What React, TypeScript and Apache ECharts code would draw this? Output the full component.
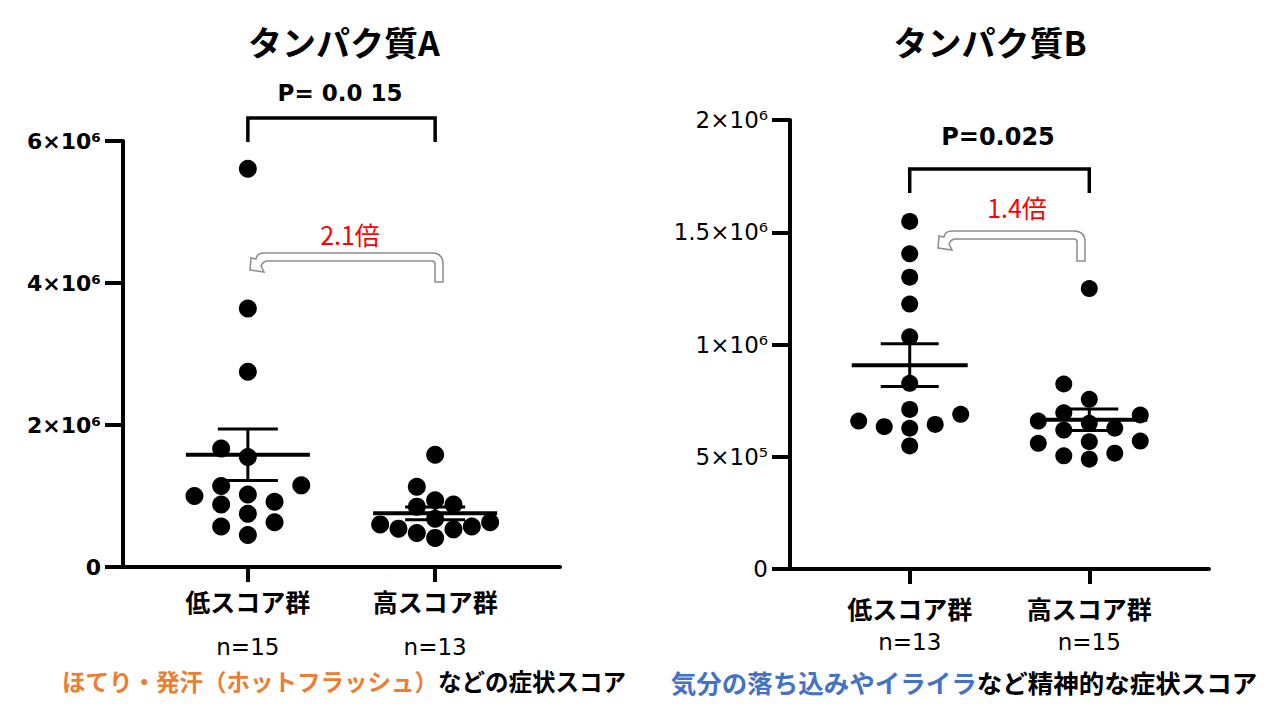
import React, { useEffect, useRef } from 'react';
import * as echarts from 'echarts';

// ---- data ----
const categories = ['低スコア群', '高スコア群'];

// タンパク質A (hot flush score groups)
const proteinALow = [5.61e6, 3.64e6, 2.75e6, 1.67e6, 1.55e6, 1.15e6, 1.14e6, 1.02e6, 1.0e6, 0.92e6, 0.88e6, 0.75e6, 0.63e6, 0.57e6, 0.45e6];
const proteinAHigh = [1.58e6, 1.13e6, 0.94e6, 0.88e6, 0.85e6, 0.68e6, 0.63e6, 0.6e6, 0.57e6, 0.54e6, 0.53e6, 0.48e6, 0.41e6];

// タンパク質B (mental symptom score groups)
const proteinBLow = [1.548e6, 1.404e6, 1.3e6, 1.18e6, 1.034e6, 0.827e6, 0.711e6, 0.689e6, 0.659e6, 0.644e6, 0.634e6, 0.627e6, 0.548e6];
const proteinBHigh = [1.249e6, 0.824e6, 0.756e6, 0.696e6, 0.686e6, 0.659e6, 0.649e6, 0.627e6, 0.619e6, 0.57e6, 0.567e6, 0.56e6, 0.516e6, 0.504e6, 0.489e6];

const yTicksA = [0, 2e6, 4e6, 6e6];
const yTickLabelsA = ['0', '2×10⁶', '4×10⁶', '6×10⁶'];
const yTicksB = [0, 5e5, 1e6, 1.5e6, 2e6];
const yTickLabelsB = ['0', '5×10⁵', '1×10⁶', '1.5×10⁶', '2×10⁶'];

const titleA = 'タンパク質A';
const titleB = 'タンパク質B';
const pValueA = 'P= 0.0 15';
const pValueB = 'P=0.025';
const foldA = '2.1倍';
const foldB = '1.4倍';
const captionA = ['ほてり・発汗（ホットフラッシュ）', 'などの症状スコア'];
const captionB = ['気分の落ち込みやイライラ', 'など精神的な症状スコア'];

const JP = '"Noto Sans CJK JP", sans-serif';
const NUM = '"DejaVu Sans", Verdana, sans-serif';

// greedy beeswarm: ascending values, try centre then alternate sides
function swarmColumns(values: number[], thresh: number): number[] {
  const order = values.map((_, i) => i).sort((a, b) => values[a] - values[b]);
  const placed: { v: number; c: number }[] = [];
  const cols = new Array(values.length).fill(0);
  for (const i of order) {
    const v = values[i];
    for (let k = 0; k < 30; k++) {
      const c = k === 0 ? 0 : k % 2 === 1 ? -Math.ceil(k / 2) : k / 2;
      if (placed.every((p) => p.c !== c || Math.abs(p.v - v) >= thresh)) {
        cols[i] = c;
        placed.push({ v, c });
        break;
      }
    }
  }
  return cols;
}

function meanSem(v: number[]): [number, number] {
  const n = v.length;
  const m = v.reduce((s, x) => s + x, 0) / n;
  const sd = Math.sqrt(v.reduce((s, x) => s + (x - m) * (x - m), 0) / (n - 1));
  return [m, sd / Math.sqrt(n)];
}

// hollow U-turn arrow outline (screen px)
function arrowPath(tipX: number, stemR: number, top: number, bottom: number): string {
  const t = 8;
  const R = 11;
  const r = 3;
  const stemL = stemR - t;
  return [
    `M${stemL},${bottom}`,
    `L${stemR},${bottom}`,
    `L${stemR},${top + R}`,
    `Q${stemR},${top} ${stemR - R},${top}`,
    `L${tipX + 14},${top}`,
    `Q${tipX + 7},${top} ${tipX + 6},${top + 6}`,
    `L${tipX + 1},${top + 5}`,
    `L${tipX},${top + 17}`,
    `L${tipX + 14},${top + 19}`,
    `L${tipX + 11},${top + 13}`,
    `Q${tipX + 13},${top + t} ${tipX + 18},${top + t}`,
    `L${stemL - r},${top + t}`,
    `Q${stemL},${top + t} ${stemL},${top + t + r}`,
    'Z',
  ].join(' ');
}

interface Panel {
  low: number[];
  high: number[];
  yTicks: number[];
  yTickLabels: string[];
  grid: { left: number; top: number; width: number; height: number };
  yBold: boolean;
  yFont: number;
  dotR: number;
  baseStep: number;
  halfWidth: number;
  meanHalf: number;
  capHalf: number;
  xLabel: { margin: number; la: number; lb: number };
  bracket: { top: number; leg: number };
  arrow: { tipX: number; stemR: number; top: number; bottom: number };
}

const panels: Panel[] = [
  {
    low: proteinALow,
    high: proteinAHigh,
    yTicks: yTicksA,
    yTickLabels: yTickLabelsA,
    grid: { left: 123, top: 141, width: 437, height: 426 },
    yBold: true,
    yFont: 22,
    dotR: 9,
    baseStep: 26.7,
    halfWidth: 55,
    meanHalf: 62,
    capHalf: 30,
    xLabel: { margin: 19, la: 30, lb: 62 },
    bracket: { top: 118, leg: 142 },
    arrow: { tipX: 250, stemR: 443, top: 253, bottom: 282 },
  },
  {
    low: proteinBLow,
    high: proteinBHigh,
    yTicks: yTicksB,
    yTickLabels: yTickLabelsB,
    grid: { left: 790, top: 120, width: 419, height: 449 },
    yBold: false,
    yFont: 23,
    dotR: 8.5,
    baseStep: 25.5,
    halfWidth: 52,
    meanHalf: 58,
    capHalf: 29,
    xLabel: { margin: 25, la: 28, lb: 40 },
    bracket: { top: 169, leg: 193 },
    arrow: { tipX: 938, stemR: 1085, top: 231, bottom: 261 },
  },
];

const App: React.FC = () => {
  const chartRef = useRef<HTMLDivElement>(null);

  useEffect(() => {
    if (!chartRef.current) return;
    const chart = echarts.init(chartRef.current, undefined, { renderer: 'svg' });

    const grids: any[] = [];
    const xAxes: any[] = [];
    const yAxes: any[] = [];
    const series: any[] = [];

    panels.forEach((p, pi) => {
      const yMax = p.yTicks[p.yTicks.length - 1];
      const groups = [p.low, p.high];
      grids.push({ ...p.grid, containLabel: false });

      xAxes.push({
        type: 'value',
        gridIndex: pi,
        min: -2 / 3,
        max: 5 / 3,
        splitLine: { show: false },
        axisLine: { show: true, onZero: false, lineStyle: { color: '#000', width: 4 } },
        axisTick: { show: true, customValues: [0, 1], length: 15, lineStyle: { color: '#000', width: 4 } },
        axisLabel: {
          customValues: [0, 1],
          margin: p.xLabel.margin,
          formatter: (v: number) => {
            const i = Math.round(v);
            return `{a|${categories[i]}}\n{b|n=${groups[i].length}}`;
          },
          rich: {
            a: { fontFamily: JP, fontSize: 25, fontWeight: 'bold', color: '#000', lineHeight: p.xLabel.la },
            b: { fontFamily: NUM, fontSize: 23, color: '#000', lineHeight: p.xLabel.lb },
          },
        },
      });

      yAxes.push({
        type: 'value',
        gridIndex: pi,
        min: 0,
        max: yMax,
        interval: p.yTicks[1] - p.yTicks[0],
        splitLine: { show: false },
        axisLine: { show: true, onZero: false, lineStyle: { color: '#000', width: 4 } },
        axisTick: { show: true, length: 18, lineStyle: { color: '#000', width: 4 } },
        axisLabel: {
          margin: 22,
          fontFamily: NUM,
          fontSize: p.yFont,
          fontWeight: p.yBold ? 'bold' : 'normal',
          color: '#000',
          formatter: (v: number) => {
            const i = p.yTicks.findIndex((t) => Math.abs(t - v) < 1);
            return i >= 0 ? p.yTickLabels[i] : '';
          },
        },
      });

      // dots, beeswarm per group
      const thresh = (p.dotR * 2 * yMax) / p.grid.height;
      groups.forEach((vals, gi) => {
        const cols = swarmColumns(vals, thresh);
        const maxCol = Math.max(1, ...cols.map((c) => Math.abs(c)));
        const step = Math.min(p.baseStep, p.halfWidth / maxCol);
        series.push({
          type: 'custom',
          xAxisIndex: pi,
          yAxisIndex: pi,
          clip: false,
          z: 2,
          data: vals.map((v, i) => [gi, v, cols[i]]),
          encode: { x: 0, y: 1 },
          renderItem: (params: any, api: any) => {
            const pt = api.coord([api.value(0), api.value(1)]);
            return {
              type: 'circle',
              shape: { cx: pt[0] + api.value(2) * step, cy: pt[1], r: p.dotR },
              style: { fill: '#000' },
            };
          },
        });
      });

      // mean ± SEM
      series.push({
        type: 'custom',
        xAxisIndex: pi,
        yAxisIndex: pi,
        clip: false,
        z: 3,
        data: groups.map((vals, gi) => {
          const [m, s] = meanSem(vals);
          return [gi, m, s];
        }),
        encode: { x: 0, y: 1 },
        renderItem: (params: any, api: any) => {
          const c = api.value(0);
          const m = api.value(1);
          const s = api.value(2);
          const pm = api.coord([c, m]);
          const pt = api.coord([c, m + s]);
          const pb = api.coord([c, m - s]);
          const st = { stroke: '#000', lineWidth: 3 };
          return {
            type: 'group',
            children: [
              { type: 'line', shape: { x1: pm[0] - p.meanHalf, y1: pm[1], x2: pm[0] + p.meanHalf, y2: pm[1] }, style: { stroke: '#000', lineWidth: 4 } },
              { type: 'line', shape: { x1: pt[0], y1: pt[1], x2: pb[0], y2: pb[1] }, style: st },
              { type: 'line', shape: { x1: pt[0] - p.capHalf, y1: pt[1], x2: pt[0] + p.capHalf, y2: pt[1] }, style: st },
              { type: 'line', shape: { x1: pb[0] - p.capHalf, y1: pb[1], x2: pb[0] + p.capHalf, y2: pb[1] }, style: st },
            ],
          };
        },
      });

      // significance bracket and fold-change arrow
      series.push({
        type: 'custom',
        xAxisIndex: pi,
        yAxisIndex: pi,
        clip: false,
        z: 4,
        silent: true,
        data: [[0, 0]],
        encode: { x: 0, y: 1 },
        renderItem: (params: any, api: any) => {
          const x0 = api.coord([0, 0])[0];
          const x1 = api.coord([1, 0])[0];
          const b = p.bracket;
          const a = p.arrow;
          return {
            type: 'group',
            children: [
              {
                type: 'polyline',
                shape: { points: [[x0, b.leg], [x0, b.top], [x1, b.top], [x1, b.leg]] },
                style: { stroke: '#000', lineWidth: 3.5, fill: 'none', lineJoin: 'miter' },
              },
              {
                type: 'path',
                shape: { pathData: arrowPath(a.tipX, a.stemR, a.top, a.bottom) },
                style: { fill: '#fff', stroke: '#8c8c8c', lineWidth: 1.5 },
              },
            ],
          };
        },
      });
    });

    const txt = (x: number, y: number, text: string, font: string, size: number, weight: string, color = '#000') => ({
      type: 'text',
      x,
      y,
      style: { text, fontFamily: font, fontSize: size, fontWeight: weight, fill: color, align: 'center', verticalAlign: 'middle' },
    });

    const caption = (x: number, y: number, parts: string[], color: string, size: number) => ({
      type: 'text',
      x,
      y,
      style: {
        text: `{c|${parts[0]}}{k|${parts[1]}}`,
        align: 'center',
        verticalAlign: 'middle',
        rich: {
          c: { fontFamily: JP, fontSize: size, fontWeight: 'bold', fill: color, color },
          k: { fontFamily: JP, fontSize: size, fontWeight: 'bold', fill: '#000', color: '#000' },
        },
      },
    });

    const option = {
      animation: false,
      backgroundColor: '#fff',
      grid: grids,
      xAxis: xAxes,
      yAxis: yAxes,
      series,
      graphic: [
        txt(344, 41, titleA, JP, 34, 'bold'),
        txt(990, 41, titleB, JP, 34, 'bold'),
        txt(340, 93, pValueA, NUM, 23, 'bold'),
        txt(998, 137, pValueB, NUM, 24, 'bold'),
        txt(350, 234, foldA, JP, 25, 'normal', '#ff0000'),
        txt(1017, 207, foldB, JP, 25, 'normal', '#ff0000'),
        caption(344, 681, captionA, '#ed7d31', 23.5),
        caption(964, 681, captionB, '#4472c4', 25.5),
      ],
    };

    chart.setOption(option);
    return () => {
      chart.dispose();
    };
  }, []);

  return (
    <div
      ref={chartRef}
      style={{ position: 'absolute', left: 0, top: 0, width: '1272px', height: '704px', background: '#fff' }}
    />
  );
};

export default App;
